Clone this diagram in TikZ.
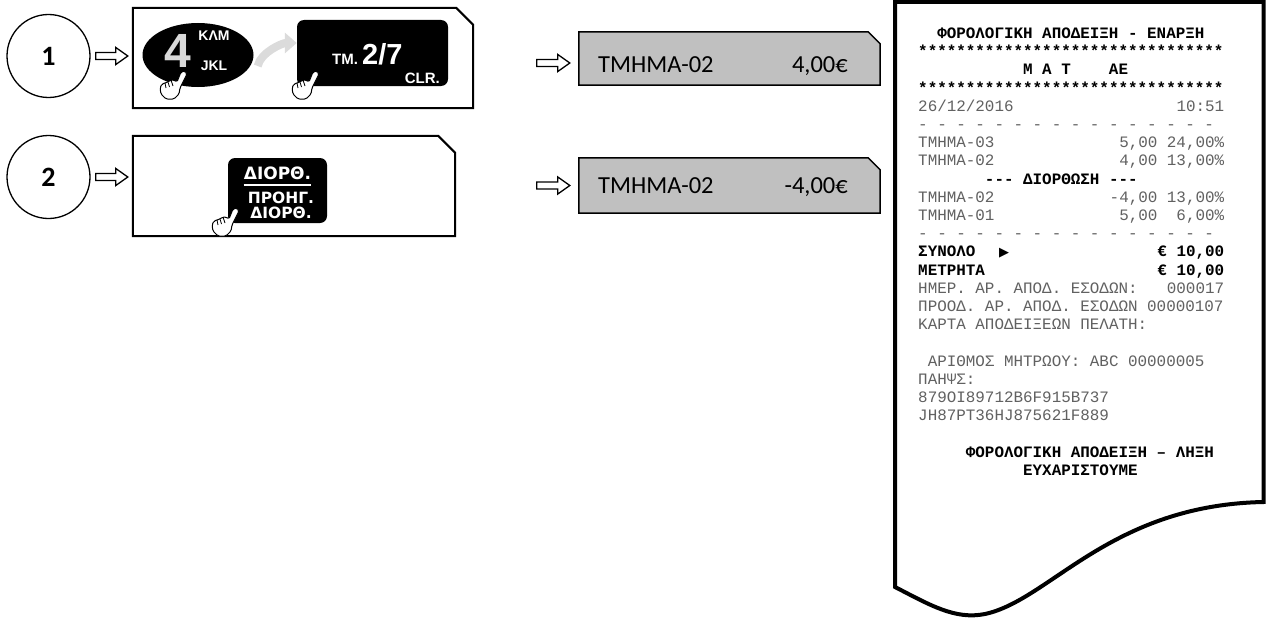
\documentclass[tikz,border=0pt]{standalone}
\usepackage{fontspec}
\setmainfont{Carlito}
\newfontfamily\monofnt{Liberation Mono}
\newfontfamily\keyfnt{Liberation Sans}
\newfontfamily\roundfnt{DejaVu Sans}
\usetikzlibrary{shapes.geometric, arrows.meta, calc, backgrounds}
\definecolor{lcd}{RGB}{192,192,192}
\newlength\chw
\setlength\chw{9.54pt}
\newcommand\blanks[1]{\hspace*{#1\chw}}
\newcommand\monospaces{\spaceskip=\chw\xspaceskip=\chw\frenchspacing\relax}
\newcommand\bmono{\color{black}\bfseries}
\tikzset{
  num/.style={circle, draw, line width=1.3pt, minimum size=83pt, inner sep=0pt,
    font=\bfseries\fontsize{28}{28}\selectfont},
  frame/.style={inner sep=0pt, minimum height=100pt},
  display/.style={inner sep=0pt, minimum width=301pt},
  key/.style={fill=black, rounded corners=7pt, inner sep=0pt},
  keytxt/.style={inner sep=0pt, text=white, font=\keyfnt\bfseries\fontsize{#1}{#1}\selectfont},
  roundtxt/.style={inner sep=0pt, text=white, font=\roundfnt\bfseries\fontsize{#1}{#1}\selectfont},
  lcdtext/.style={inner sep=0pt, font=\fontsize{24.5}{24.5}\selectfont},
  slip/.style={inner sep=0pt, anchor=base west, text width=306pt, align=left, text=black!62,
    font=\monofnt\fontsize{15.9}{18.2}\selectfont},
  fat/.style={line width=1.3pt, fill=white, line join=miter,
    to path={let \p1=(\tikztostart), \p2=(\tikztotarget) in
      (\x1,{\y1+3.5pt}) -- ({\x2-12pt},{\y1+3.5pt}) -- ({\x2-12pt},{\y1+8.5pt}) -- (\x2,\y1)
      -- ({\x2-12pt},{\y1-8.5pt}) -- ({\x2-12pt},{\y1-3.5pt}) -- (\x1,{\y1-3.5pt}) -- cycle}},
  swoosh/.style={gray!28, line width=8pt, -{Triangle[length=12pt, width=20pt]}},
  hand/.pic={
    \draw[fill=white, line width=1pt, line join=round, rounded corners=1.5pt]
      (21,1) -- (25,0) -- (27,3) -- (20,17) -- (19,23) -- (14,28) -- (6,28) -- (1,23)
      -- (0,17) -- (2,13) -- (5,12) -- (8,11) -- (11,9) -- (14,9) -- (17,11) -- cycle;
    \draw[line width=0.8pt] (5,12) -- (6,17) (8,11) -- (9.5,16) (11,9) -- (13,15);
  }
}

\begin{document}
\begin{tikzpicture}[x=1pt, y=-1pt]
\useasboundingbox (0,0) rectangle (1266,618);

\node[num] (num1) at (48.5,56) {1};
\node[num] (num2) at (48.5,177) {2};
\node[frame, minimum width=340pt] (panel1) at (303,58) {};
\node[frame, minimum width=322pt] (panel2) at (294,186) {};
\node[display, minimum height=53pt] (disp1) at (729.5,58.5) {};
\node[display, minimum height=55pt] (disp2) at (729.5,185.5) {};

\node[ellipse, fill=black, minimum width=111pt, minimum height=64pt, inner sep=0pt] (key4) at (198,55) {};
\node[keytxt=48, text=gray!30] (k4) at (178,51) {4};
\node[keytxt=14] (k4a) at (214,36) {ΚΛΜ};
\node[keytxt=14] (k4b) at (214,66) {JKL};
\node[key, minimum width=151pt, minimum height=66pt] (key27) at (372.5,53) {};
\node[keytxt=15, anchor=base west] (k27a) at (332,64) {ΤΜ.};
\node[keytxt=29, anchor=base west] (k27b) at (362,64) {2/7};
\node[keytxt=15, anchor=base east] (k27c) at (440,83) {CLR.};
\draw[swoosh] ([shift={(4,11)}]key4.east) .. controls +(3,-14) and +(-14,0) .. ([yshift=10pt]key27.west);
\node[key, minimum width=99pt, minimum height=65pt] (key3) at (277.5,190.5) {};
\node[roundtxt=17] (k3a) at (277.5,173) {ΔΙΟΡΘ.};
\draw[white, line width=2pt] ([yshift=-5pt]k3a.south west) -- ([yshift=-5pt]k3a.south east);
\node[roundtxt=15.5] (k3b) at (281,198) {ΠΡΟΗΓ.};
\node[roundtxt=15.5] (k3c) at (281,213) {ΔΙΟΡΘ.};
\pic at (160,71) {hand};
\pic at (292,71) {hand};
\pic at (212,208) {hand};

\draw[fat] ([xshift=5pt]num1.east) to ([xshift=-5pt]num1.east -| panel1.west);
\draw[fat] ([xshift=5pt]num2.east) to ([xshift=-5pt]num2.east -| panel2.west);
\draw[fat] ([xshift=-42pt,yshift=-4.5pt]disp1.west) to ([xshift=-9pt,yshift=-4.5pt]disp1.west);
\draw[fat] ([xshift=-42pt,yshift=0pt]disp2.west) to ([xshift=-9pt,yshift=0pt]disp2.west);

\node[lcdtext, anchor=base west] (d1a) at (598,72) {ΤΜΗΜΑ-02};
\node[lcdtext, anchor=base east] (d1b) at (848,72) {4,00€};
\node[lcdtext, anchor=base west] (d2a) at (598,193) {ΤΜΗΜΑ-02};
\node[lcdtext, anchor=base east] (d2b) at (848,193) {-4,00€};

\begin{scope}[on background layer]
  \fill[white] (0,0) rectangle (1266,618);
  \foreach \n/\c/\w/\f in {panel1/17/2/white, panel2/17/2/white, disp1/12/1.5/lcd, disp2/12/1.5/lcd}
    \draw[line width=\w pt, fill=\f] (\n.south west) -- (\n.north west) -- ([xshift=-\c pt]\n.north east)
      -- ([yshift=-\c pt]\n.north east) -- (\n.south east) -- cycle;
\end{scope}

\draw[line width=4pt] (895,587) -- (895,2) -- (1263.5,2) -- (1263.5,502)
  .. controls (1110,505) and (1050,600) .. (985,614)
  .. controls (955,620) and (930,605) .. (895,587) -- cycle;
\node[slip] (slip) at (918,38.5) {\monospaces
{\bmono\blanks{2}ΦΟΡΟΛΟΓΙΚΗ ΑΠΟΔΕΙΞΗ - ΕΝΑΡΞΗ}\\
{\bmono ********************************}\\
{\bmono\blanks{11}Μ Α Τ\blanks{4}ΑΕ}\\
{\bmono ********************************}\\
26/12/2016\hfill 10:51\\
- - - - - - - - - - - - - - - -\\
ΤΜΗΜΑ-03\hfill 5,00 24,00\%\\
ΤΜΗΜΑ-02\hfill 4,00 13,00\%\\
{\bmono\blanks{7}-\kern0pt-\kern0pt- ΔΙΟΡΘΩΣΗ -\kern0pt-\kern0pt-}\\
ΤΜΗΜΑ-02\hfill -4,00 13,00\%\\
ΤΜΗΜΑ-01\hfill 5,00\blanks{2}6,00\%\\
- - - - - - - - - - - - - - - -\\
{\bmono ΣΥΝΟΛΟ\blanks{2.5}\makebox[\chw]{\roundfnt\fontsize{13}{13}\selectfont ▶}\hfill € 10,00}\\
{\bmono ΜΕΤΡΗΤΑ\hfill € 10,00}\\
ΗΜΕΡ. ΑΡ. ΑΠΟΔ. ΕΣΟΔΩΝ:\hfill 000017\\
ΠΡΟΟΔ. ΑΡ. ΑΠΟΔ. ΕΣΟΔΩΝ 00000107\\
ΚΑΡΤΑ ΑΠΟΔΕΙΞΕΩΝ ΠΕΛΑΤΗ:\\
\mbox{}\\
\blanks{1}ΑΡΙΘΜΟΣ ΜΗΤΡΩΟΥ: ABC 00000005\\
ΠΑΗΨΣ:\\
879OI89712B6F915B737\\
JH87PT36HJ875621F889\\
\mbox{}\\
{\bmono\blanks{5}ΦΟΡΟΛΟΓΙΚΗ ΑΠΟΔΕΙΞΗ – ΛΗΞΗ}\\
{\bmono\blanks{11}ΕΥΧΑΡΙΣΤΟΥΜΕ}};
\end{tikzpicture}
\end{document}
